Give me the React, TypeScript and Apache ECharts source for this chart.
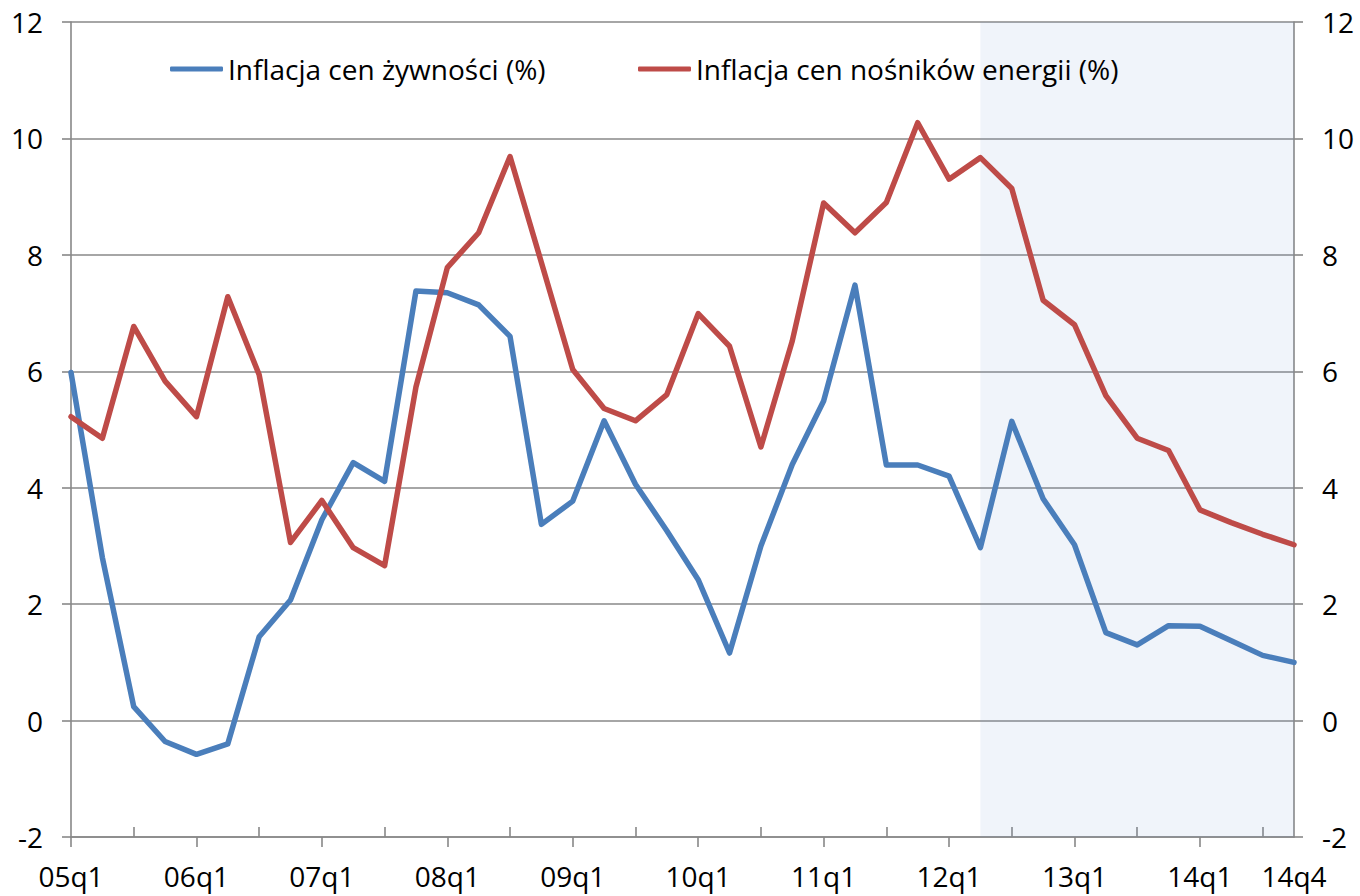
import React, { useEffect, useRef } from "react";
import * as echarts from "echarts";

const categories = [
  "05q1", "05q2", "05q3", "05q4",
  "06q1", "06q2", "06q3", "06q4",
  "07q1", "07q2", "07q3", "07q4",
  "08q1", "08q2", "08q3", "08q4",
  "09q1", "09q2", "09q3", "09q4",
  "10q1", "10q2", "10q3", "10q4",
  "11q1", "11q2", "11q3", "11q4",
  "12q1", "12q2", "12q3", "12q4",
  "13q1", "13q2", "13q3", "13q4",
  "14q1", "14q2", "14q3", "14q4",
];

const foodName = "Inflacja cen żywności (%)";
const energyName = "Inflacja cen nośników energii (%)";

const foodInflation = [
  5.98, 2.8, 0.24, -0.36,
  -0.58, -0.4, 1.44, 2.07,
  3.45, 4.43, 4.11, 7.38,
  7.35, 7.14, 6.6, 3.37,
  3.77, 5.15, 4.06, 3.26,
  2.42, 1.16, 3.0, 4.4,
  5.49, 7.48, 4.39, 4.39,
  4.2, 2.97, 5.14, 3.81,
  3.02, 1.51, 1.3, 1.63,
  1.62, 1.37, 1.12, 1.0,
];

const energyInflation = [
  5.22, 4.85, 6.77, 5.83,
  5.22, 7.28, 5.94, 3.06,
  3.78, 2.97, 2.66, 5.73,
  7.78, 8.38, 9.69, 7.87,
  6.03, 5.36, 5.15, 5.6,
  6.99, 6.43, 4.7, 6.52,
  8.89, 8.38, 8.9, 10.27,
  9.3, 9.67, 9.14, 7.22,
  6.8, 5.58, 4.85, 4.64,
  3.62, 3.4, 3.2, 3.02,
];

const forecastStart = "12q2";
const forecastEnd = "14q4";

const yMin = -2;
const yMax = 12;
const yStep = 2;

const FONT = "'Open Sans', 'Noto Sans', sans-serif";
const FONT_SIZE = 28;
const AXIS_GRAY = "#888888";

export default function App() {
  const ref = useRef<HTMLDivElement>(null);

  useEffect(() => {
    document.body.style.margin = "0";
    if (!ref.current) return;
    const chart = echarts.init(ref.current, undefined, { renderer: "svg" });
    const last = categories.length - 1;

    const yAxisBase = {
      type: "value",
      min: yMin,
      max: yMax,
      interval: yStep,
      axisLine: { show: true, lineStyle: { color: AXIS_GRAY, width: 1.6 } },
      axisTick: { show: true, length: 9, lineStyle: { color: AXIS_GRAY, width: 1.6 } },
      axisLabel: { color: "#000", fontSize: FONT_SIZE, fontFamily: FONT, margin: 28 },
    };

    const legendBase = {
      top: 52,
      padding: 0,
      itemWidth: 53,
      itemHeight: 5,
      icon: "roundRect",
      textStyle: { color: "#000", fontSize: FONT_SIZE, fontFamily: FONT, lineHeight: 34 },
    };

    chart.setOption({
      animation: false,
      backgroundColor: "#fff",
      textStyle: { fontFamily: FONT },
      grid: { left: 71, right: 66, top: 22, bottom: 59, containLabel: false },
      legend: [
        { ...legendBase, left: 170, data: [foodName] },
        { ...legendBase, left: 638, data: [energyName] },
      ],
      xAxis: [
        {
          type: "category",
          data: categories,
          boundaryGap: false,
          position: "bottom",
          axisLine: { show: true, onZero: false, lineStyle: { color: AXIS_GRAY, width: 1.6 } },
          axisTick: {
            show: true,
            length: 10,
            interval: (i: number) => i % 4 === 0,
            lineStyle: { color: AXIS_GRAY, width: 1.6 },
          },
          axisLabel: {
            color: "#000",
            fontSize: FONT_SIZE,
            fontFamily: FONT,
            margin: 25,
            interval: (i: number) => i % 4 === 0 || i === last,
          },
          splitLine: { show: false },
        },
        {
          type: "category",
          data: categories,
          boundaryGap: false,
          position: "bottom",
          axisLine: { show: false, onZero: false },
          axisTick: {
            show: true,
            inside: true,
            length: 10,
            interval: (i: number) => i % 4 === 2,
            lineStyle: { color: AXIS_GRAY, width: 1.6 },
          },
          axisLabel: { show: false },
          splitLine: { show: false },
        },
      ],
      yAxis: [
        {
          ...yAxisBase,
          position: "left",
          splitLine: { show: true, lineStyle: { color: AXIS_GRAY, width: 1.6 } },
        },
        {
          ...yAxisBase,
          position: "right",
          splitLine: { show: false },
        },
      ],
      series: [
        {
          name: foodName,
          type: "line",
          data: foodInflation,
          xAxisIndex: 0,
          yAxisIndex: 0,
          showSymbol: false,
          symbol: "none",
          itemStyle: { color: "#4A7EBB" },
          lineStyle: { color: "#4A7EBB", width: 5.5, cap: "round", join: "round" },
          z: 3,
          markArea: {
            silent: true,
            itemStyle: { color: "rgba(105,145,205,0.1)" },
            data: [[{ xAxis: forecastStart }, { xAxis: forecastEnd }]],
          },
        },
        {
          name: energyName,
          type: "line",
          data: energyInflation,
          xAxisIndex: 0,
          yAxisIndex: 0,
          showSymbol: false,
          symbol: "none",
          itemStyle: { color: "#BE4B48" },
          lineStyle: { color: "#BE4B48", width: 5.5, cap: "round", join: "round" },
          z: 4,
        },
      ],
    });

    return () => chart.dispose();
  }, []);

  return (
    <div
      ref={ref}
      style={{ width: 1360, height: 896, position: "absolute", left: 0, top: 0 }}
    />
  );
}
